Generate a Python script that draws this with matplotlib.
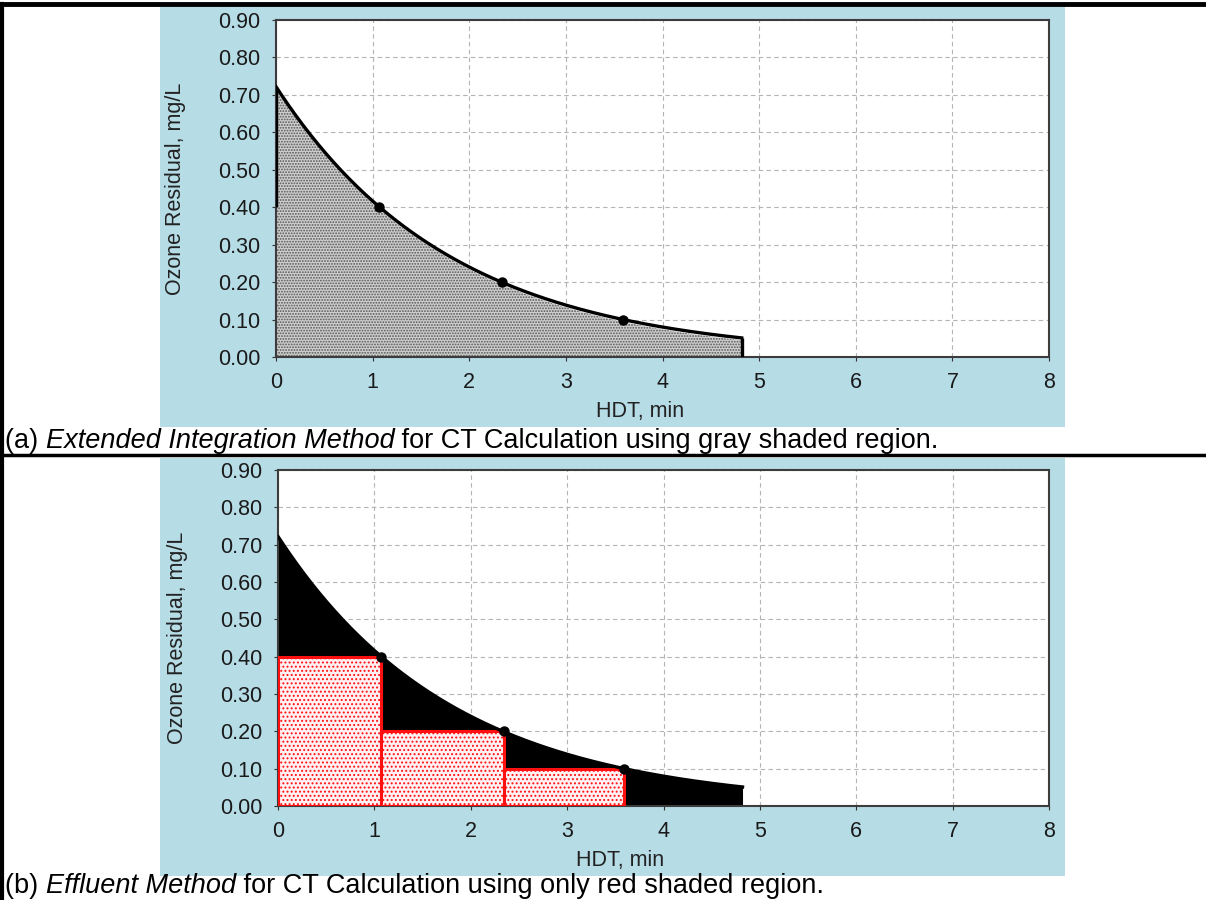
import matplotlib
matplotlib.use("Agg")
import matplotlib.pyplot as plt
import numpy as np
from matplotlib.patches import Rectangle
from matplotlib.lines import Line2D

plt.rcParams['font.family'] = ['Liberation Sans', 'DejaVu Sans']
plt.rcParams['hatch.linewidth'] = 0.9

# data
hdt = np.array([1.07, 2.34, 3.59])        # min, sample points
residual = np.array([0.40, 0.20, 0.10])   # mg/L
hdt_end = 4.82                            # end of the contact time
x_ticks = [0, 1, 2, 3, 4, 5, 6, 7, 8]
y_ticks = [0.0, 0.1, 0.2, 0.3, 0.4, 0.5, 0.6, 0.7, 0.8, 0.9]

caption_a = [("(a) ", "normal"), ("Extended Integration Method", "italic"),
             (" for CT Calculation using gray shaded region.", "normal")]
caption_b = [("(b) ", "normal"), ("Effluent Method", "italic"),
             (" for CT Calculation using only red shaded region.", "normal")]

# exponential trendline through the points (like the Excel trend curve)
k, ln_c0 = np.polyfit(hdt, np.log(residual), 1)
t_fit = np.linspace(0, hdt_end, 300)
c_fit = np.exp(ln_c0) * np.exp(k * t_fit)

W, H = 1206, 900
fig = plt.figure(figsize=(W / 100, H / 100), dpi=100)

BLUE = '#b6dce6'


def px_box(x0, y0, x1, y1):
    return [x0 / W, 1 - y1 / H, (x1 - x0) / W, (y1 - y0) / H]


# blue chart panels
for (x0, y0, x1, y1) in [(160, 7, 1065, 427), (160, 458, 1065, 876)]:
    b = px_box(x0, y0, x1, y1)
    fig.patches.append(Rectangle((b[0], b[1]), b[2], b[3], transform=fig.transFigure,
                                 facecolor=BLUE, edgecolor='none', zorder=-5))

# table lines
for (xs, ys, lw) in [((0, 1), (1 - 4 / H, 1 - 4 / H), 3.5),
                     ((0, 1), (1 - 455 / H, 1 - 455 / H), 2.5),
                     ((2 / W, 2 / W), (0, 1 - 4 / H), 3.0)]:
    fig.add_artist(Line2D(xs, ys, color='black', lw=lw, transform=fig.transFigure))


def style_axes(ax, xlab_x):
    ax.set_xlim(0, 8)
    ax.set_ylim(0, 0.9)
    ax.set_xticks(x_ticks)
    ax.set_yticks(y_ticks)
    ax.set_yticklabels([f"{v:.2f}" for v in y_ticks])
    ax.tick_params(labelsize=15.5, colors='#333333', labelcolor='#1a1a1a', length=3, pad=8)
    ax.grid(True, color='#b4b4b4', linestyle=(0, (4, 3)), lw=0.8)
    ax.set_axisbelow(True)
    for s in ax.spines.values():
        s.set_color('#3c3c3c')
        s.set_linewidth(1.5)
    ax.set_ylabel("Ozone Residual, mg/L", fontsize=15.5, color='#222222')
    ax.set_xlabel("HDT, min", fontsize=15.5, color='#222222')
    ax.yaxis.set_label_coords(-0.117, 0.5)
    ax.xaxis.set_label_coords(xlab_x, -0.132)


# (a) extended integration
ax1 = fig.add_axes(px_box(276, 20, 1049, 357))
ax1.fill_between(t_fit, 0, c_fit - 0.006, facecolor='#cfcfcf', edgecolor='#555555',
                 hatch='......', linewidth=0, zorder=2)
ax1.plot(t_fit, c_fit, color='black', lw=2.4, zorder=4)
ax1.vlines([hdt_end], 0, c_fit[-1], color='black', lw=2.4, zorder=4)
ax1.vlines([0], residual[0], c_fit[0], color='black', lw=2.4, zorder=4)
ax1.plot(hdt, residual, 'o', color='black', ms=6.5, zorder=5)
style_axes(ax1, 0.471)

# (b) effluent method
ax2 = fig.add_axes(px_box(278, 470, 1049, 806))
ax2.fill_between(t_fit, 0, c_fit, color='black', lw=0, zorder=2)
ax2.plot(t_fit, c_fit, color='black', lw=2.4, zorder=4)
lefts = np.concatenate([[0], hdt[:-1]])
ax2.bar(lefts, residual, width=hdt - lefts, align='edge', facecolor='#fff0f3',
        edgecolor='#ff1010', hatch='....', linewidth=2.2, zorder=3)
ax2.plot(hdt, residual, 'o', color='black', ms=6.5, zorder=5)
style_axes(ax2, 0.444)


def caption(pieces, x_px, y_px):
    fig.canvas.draw()
    r = fig.canvas.get_renderer()
    x = x_px / W
    for s, st in pieces:
        t = fig.text(x, 1 - y_px / H, s, fontsize=19.5, style=st, color='black',
                     va='baseline', ha='left')
        bb = t.get_window_extent(renderer=r)
        x = bb.x1 / W


caption(caption_a, 5, 448)
caption(caption_b, 5, 893)

fig.savefig('out.png', dpi=100)
